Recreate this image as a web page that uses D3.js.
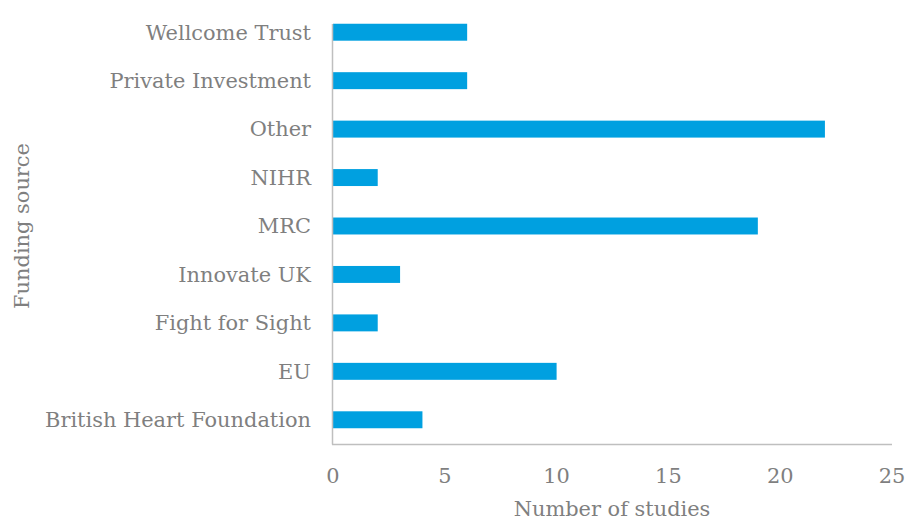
<!DOCTYPE html>
<html>
<head>
<meta charset="utf-8">
<script src="https://cdn.jsdelivr.net/npm/d3@7"></script>
<style>
  body { margin: 0; background: #fff; }
  text { font-family: Georgia, "DejaVu Serif", serif; fill: #7f7f7f; }
</style>
</head>
<body>
<svg id="chart" width="905" height="522"></svg>
<script>
const categories = ['Wellcome Trust', 'Private Investment', 'Other', 'NIHR', 'MRC',
  'Innovate UK', 'Fight for Sight', 'EU', 'British Heart Foundation'];
const studies = [6, 6, 22, 2, 19, 3, 2, 10, 4];
const xTicks = [0, 5, 10, 15, 20, 25];

const margin = { top: 8, right: 13, bottom: 78, left: 333 };
const width = 905, height = 522;
const svg = d3.select('#chart');

// size the text so the longest label spans the same width as in the source
const probe = svg.append('text').attr('font-size', 20).text('British Heart Foundation');
const scaleF = 266 / probe.node().getComputedTextLength();
probe.remove();
const fs = Math.min(23, 20 * scaleF);

const x = d3.scaleLinear()
  .domain([0, 25])
  .range([margin.left, width - margin.right]);

const y = d3.scaleBand()
  .domain(categories)
  .range([margin.top, height - margin.bottom])
  .paddingInner(0.65)
  .paddingOuter(0.325);

// bars
svg.append('g')
  .selectAll('rect')
  .data(categories)
  .join('rect')
  .attr('x', x(0))
  .attr('y', d => y(d))
  .attr('width', (d, i) => x(studies[i]) - x(0))
  .attr('height', y.bandwidth())
  .attr('fill', '#00a0e0');

// axis lines
const axisColor = '#bfbfbf';
svg.append('line')
  .attr('x1', x(0) - 0.5).attr('x2', x(0) - 0.5)
  .attr('y1', margin.top + 16).attr('y2', height - margin.bottom + 0.5)
  .attr('stroke', axisColor).attr('stroke-width', 1.5);
svg.append('line')
  .attr('x1', x(0) - 1).attr('x2', x(25))
  .attr('y1', height - margin.bottom + 0.5).attr('y2', height - margin.bottom + 0.5)
  .attr('stroke', axisColor).attr('stroke-width', 1.5);

// category labels
svg.append('g')
  .selectAll('text')
  .data(categories)
  .join('text')
  .attr('x', x(0) - 22)
  .attr('y', d => y(d) + y.bandwidth() / 2)
  .attr('dy', '0.35em')
  .attr('text-anchor', 'end')
  .attr('font-size', fs)
  .text(d => d);

// tick labels
svg.append('g')
  .selectAll('text')
  .data(xTicks)
  .join('text')
  .attr('x', d => x(d))
  .attr('y', 483)
  .attr('text-anchor', 'middle')
  .attr('font-size', fs)
  .text(d => d);

// axis titles
svg.append('text')
  .attr('x', 612)
  .attr('y', 516)
  .attr('text-anchor', 'middle')
  .attr('font-size', fs)
  .text('Number of studies');

svg.append('text')
  .attr('transform', 'translate(29,226) rotate(-90)')
  .attr('text-anchor', 'middle')
  .attr('font-size', fs)
  .text('Funding source');
</script>
</body>
</html>
